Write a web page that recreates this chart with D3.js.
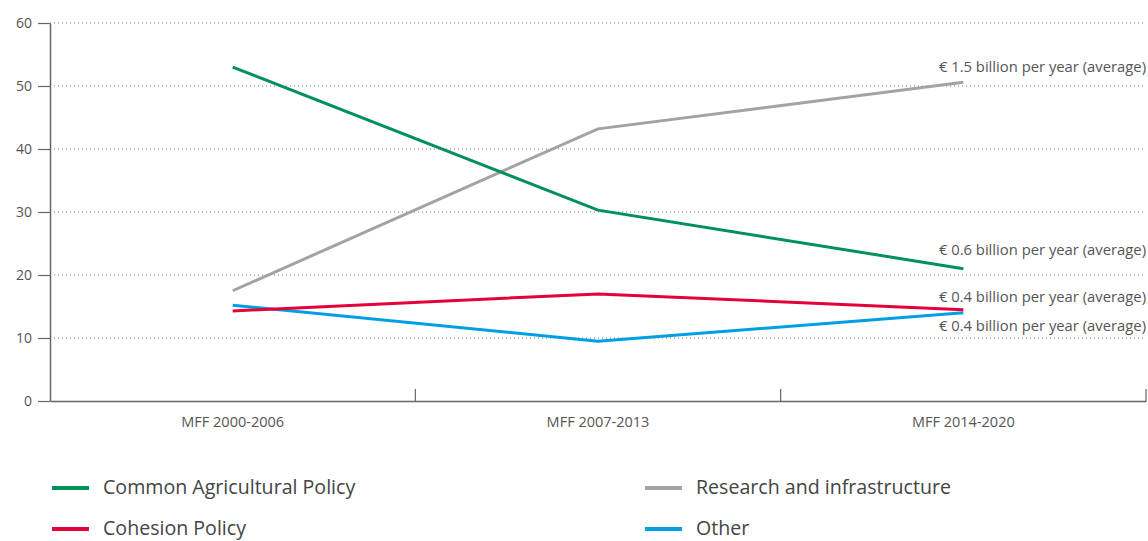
<!DOCTYPE html>
<html><head><meta charset="utf-8">
<script src="https://cdn.jsdelivr.net/npm/d3@7"></script>
<style>
body{margin:0;background:#fff;}
text{font-family:"Open Sans",sans-serif;}
</style></head>
<body><svg id="c" width="1148" height="541"></svg>
<script>
const categories = ["MFF 2000-2006","MFF 2007-2013","MFF 2014-2020"];
const seriesNames = ["Common Agricultural Policy","Research and infrastructure","Cohesion Policy","Other"];
const capValues = [53.0, 30.3, 21.0];
const researchValues = [17.5, 43.2, 50.6];
const cohesionValues = [14.3, 17.0, 14.5];
const otherValues = [15.2, 9.5, 14.0];
const yTicks = [0,10,20,30,40,50,60];
const endLabels = ["€ 1.5 billion per year (average)","€ 0.6 billion per year (average)","€ 0.4 billion per year (average)","€ 0.4 billion per year (average)"];

(function(){
const colors = {"Common Agricultural Policy":"#00915a","Research and infrastructure":"#a3a3a3","Cohesion Policy":"#e4003a","Other":"#009fe3"};
const series = [
  {name:seriesNames[0], values:capValues, label:endLabels[1], dy:-14},
  {name:seriesNames[1], values:researchValues, label:endLabels[0], dy:-10},
  {name:seriesNames[2], values:cohesionValues, label:endLabels[2], dy:-8},
  {name:seriesNames[3], values:otherValues, label:endLabels[3], dy:18}
];

const svg = d3.select("#c");
const mLeft=50, mRight=1146, mTop=23, mBottom=401;
const x = d3.scaleBand().domain(categories).range([mLeft,mRight]).padding(0);
const y = d3.scaleLinear().domain([0,60]).range([mBottom,mTop]);

svg.append("g").selectAll("line").data(yTicks.filter(d=>d>0)).join("line")
  .attr("x1",mLeft).attr("x2",mRight).attr("y1",d=>y(d)).attr("y2",d=>y(d))
  .attr("stroke","#777").attr("stroke-width",1).attr("stroke-dasharray","1,3");

const ya = svg.append("g").attr("transform",`translate(${mLeft},0)`)
  .call(d3.axisLeft(y).tickValues(yTicks).tickSize(12).tickSizeOuter(0).tickPadding(6));
ya.select(".domain").attr("stroke","#666").attr("stroke-width",1.5);
ya.selectAll(".tick line").attr("stroke","#666").attr("stroke-width",1.2);
ya.selectAll(".tick text").attr("font-size",14).attr("fill","#555").attr("font-family","Open Sans");

const xa = svg.append("g").attr("transform",`translate(0,${mBottom})`)
  .call(d3.axisBottom(x).tickSize(0).tickPadding(16));
xa.select(".domain").attr("stroke","#666").attr("stroke-width",1.5);
xa.selectAll(".tick text").attr("font-size",14.5).attr("fill","#555").attr("font-family","Open Sans");
svg.append("g").selectAll("line").data(categories).join("line")
  .attr("x1",d=>x(d)+x.bandwidth()).attr("x2",d=>x(d)+x.bandwidth())
  .attr("y1",mBottom).attr("y2",mBottom-12).attr("stroke","#666").attr("stroke-width",1.2);

const line = d3.line().x((d,i)=>x(categories[i])+x.bandwidth()/2).y(d=>y(d));
const drawOrder = [series[1], series[0], series[3], series[2]];
svg.append("g").selectAll("path").data(drawOrder).join("path")
  .attr("d",d=>line(d.values)).attr("fill","none")
  .attr("stroke",d=>colors[d.name]).attr("stroke-width",3);

svg.append("g").selectAll("text").data(series).join("text")
  .attr("x",mRight).attr("y",d=>y(d.values[2])+d.dy)
  .attr("text-anchor","end").attr("font-size",14.8).attr("fill","#555")
  .text(d=>d.label);

const legendItems = [
  {name:seriesNames[0], lx:52, ly:488},
  {name:seriesNames[1], lx:645, ly:488},
  {name:seriesNames[2], lx:52, ly:529},
  {name:seriesNames[3], lx:645, ly:529}
];
const lg = svg.append("g").selectAll("g").data(legendItems).join("g")
  .attr("transform",d=>`translate(${d.lx},${d.ly})`);
lg.append("line").attr("x1",0).attr("x2",37).attr("y1",0).attr("y2",0)
  .attr("stroke",d=>colors[d.name]).attr("stroke-width",4);
lg.append("text").attr("x",51).attr("y",6).attr("font-size",19.6).attr("fill","#444")
  .text(d=>d.name);
})();
</script></body></html>
